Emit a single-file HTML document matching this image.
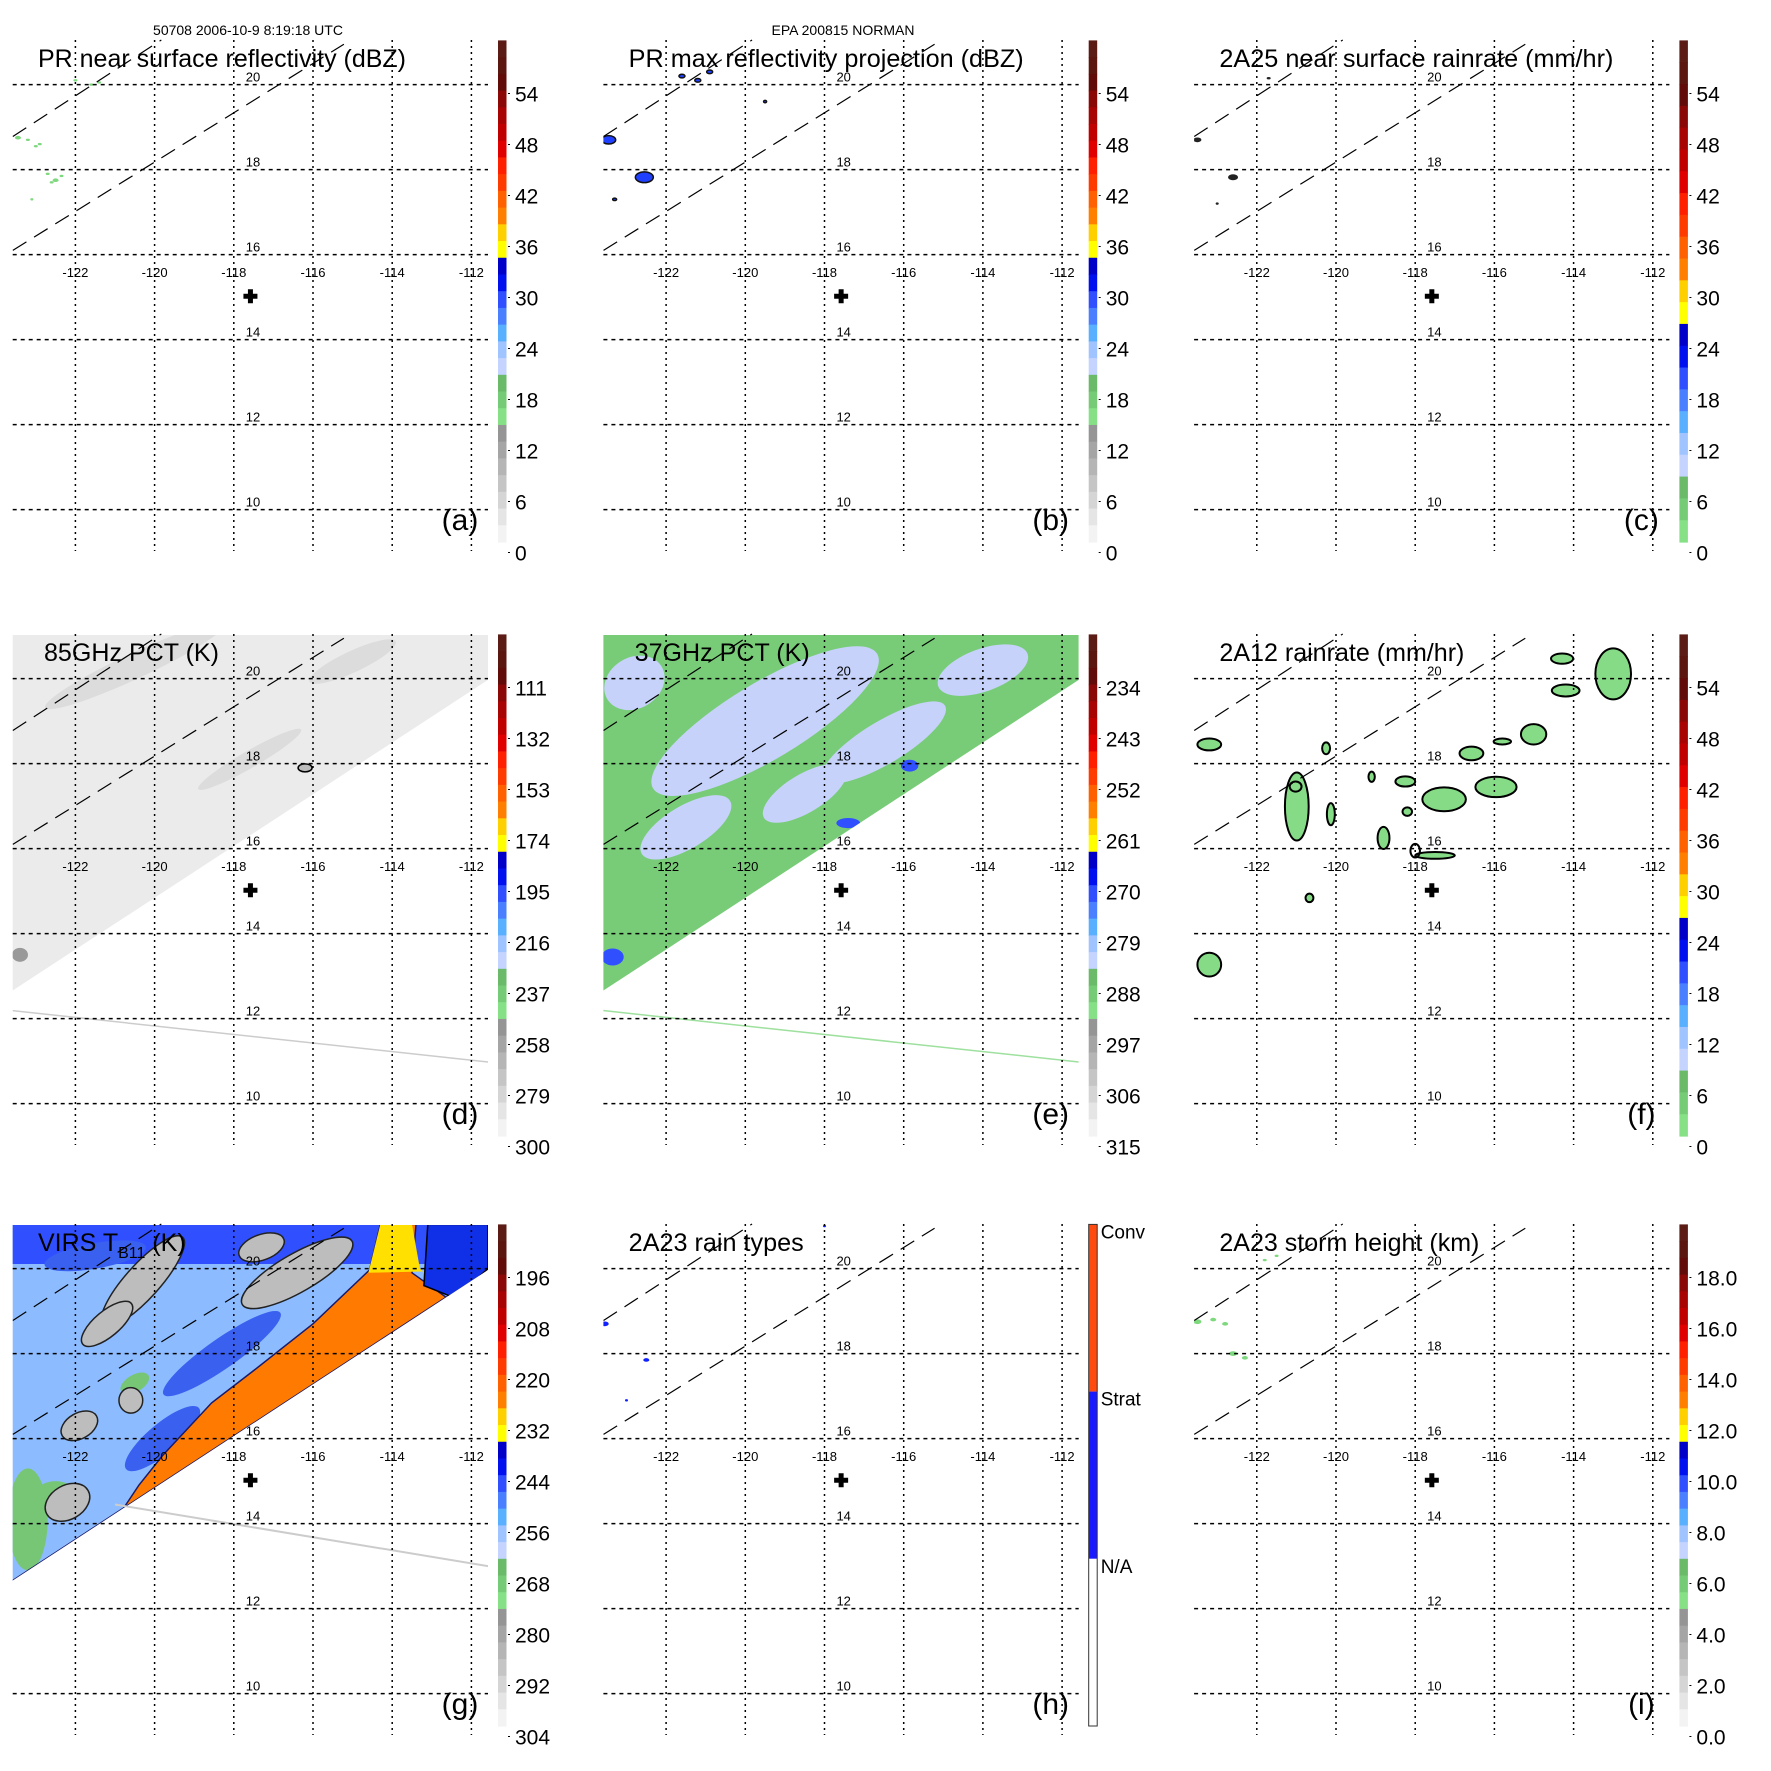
<!DOCTYPE html>
<html><head><meta charset="utf-8"><style>
html,body{margin:0;padding:0;background:#fff;}
svg{display:block;font-family:"Liberation Sans",sans-serif;}
</style></head><body>
<svg id="fig" width="1771" height="1771" viewBox="0 0 1771 1771" xmlns="http://www.w3.org/2000/svg"></svg>
<script>
// ---- data arrays ----
const lonTicks = [-122,-120,-118,-116,-114,-112];
const latTicks = [20,18,16,14,12,10];
const titles = ["PR near surface reflectivity (dBZ)","PR max reflectivity projection (dBZ)","2A25 near surface rainrate (mm/hr)","85GHz PCT (K)","37GHz PCT (K)","2A12 rainrate (mm/hr)","VIRS T","2A23 rain types","2A23 storm height (km)"];
const titleLens = [368,395,394,175,175,245,150,175,260];
const panelLetters = ["(a)","(b)","(c)","(d)","(e)","(f)","(g)","(h)","(i)"];
const cbLabelsA = ["54","48","42","36","30","24","18","12","6","0"];
const cbLabelsC = ["54","48","42","36","30","24","18","12","6","0"];
const cbLabelsD = ["111","132","153","174","195","216","237","258","279","300"];
const cbLabelsE = ["234","243","252","261","270","279","288","297","306","315"];
const cbLabelsG = ["196","208","220","232","244","256","268","280","292","304"];
const cbLabelsI = ["18.0","16.0","14.0","12.0","10.0","8.0","6.0","4.0","2.0","0.0"];
const rainTypes = ["Conv","Strat","N/A"];
const palette = ["#5a1c14","#5c1610","#620c0a","#8a0806","#a80404","#c00000","#e00000","#ff2000","#ff3c00","#ff6000","#ff8000","#ffd000","#ffff00","#0000c8","#0010ee","#3050ff","#4a80ff","#58b0ff","#a0c4ff","#c4d4ff","#6aba6a","#76cc76","#86e086","#959595","#a5a5a5","#b5b5b5","#c5c5c5","#d5d5d5","#e5e5e5","#f3f3f3"];
const sitePos = [-117.58, 15.02];
const swath = [[-123.6,21.04],[-111.58,21.04],[-111.58,19.97],[-123.6,12.65]];
const dashUpper = [[-123.58,18.78],[-119.83,21.05]];
const dashLower = [[-123.58,16.1],[-115.22,20.95]];
const orbitLineD = [[-123.6,12.19],[-111.58,10.98]];
const orbitLineG = [[-121.0,14.45],[-111.58,13.0]];
const specksA = [[-123.45,18.75,3],[-123.2,18.7,2],[-122.9,18.6,2],[-123.0,18.55,2],[-122.7,17.9,2],[-122.5,17.75,3],[-122.35,17.85,2],[-122.6,17.7,2],[-122.0,20.1,2],[-121.6,20.0,2],[-121.4,20.05,2],[-123.1,17.3,1.5]];
const specksB = [[-123.45,18.7,7],[-122.55,17.82,9],[-121.6,20.2,3],[-121.2,20.1,3],[-120.9,20.3,3],[-123.3,17.3,2],[-119.5,19.6,1.5]];
const specksC = [[-123.5,18.7,4],[-122.6,17.82,5],[-121.7,20.15,2],[-123.0,17.2,1.5]];
const specksH = [[-123.55,18.7,4],[-122.5,17.85,3],[-118.0,21.0,1.5],[-116.4,21.1,1.5],[-123.0,16.9,1.5]];
const specksI = [[-123.5,18.75,4],[-123.1,18.8,3],[-122.8,18.7,3],[-122.6,18.0,4],[-122.3,17.9,3],[-121.8,20.2,2],[-121.5,20.3,2]];
const blobsF = [[-113.0,20.11,0.45,0.6],[-120.99,16.99,0.3,0.8],[-117.27,17.16,0.55,0.28],[-115.96,17.45,0.52,0.24],[-116.58,18.24,0.3,0.16],[-115.01,18.69,0.32,0.24],[-123.2,18.45,0.3,0.14],[-123.2,13.27,0.3,0.28],[-114.29,20.47,0.28,0.12],[-118.8,16.25,0.15,0.26],[-118.25,17.58,0.25,0.12],[-120.13,16.81,0.1,0.26],[-120.25,18.36,0.1,0.14],[-114.2,19.72,0.35,0.14],[-119.1,17.69,0.08,0.12],[-118.2,16.87,0.12,0.1],[-115.8,18.52,0.22,0.07],[-120.67,14.84,0.1,0.1],[-117.5,15.84,0.5,0.08]];
const ringsF = [[-121.02,17.46,0.15,0.12],[-118.0,15.95,0.12,0.16]];
const lightE = [[-119.5,19.0,3.3,0.9,-31],[-116.5,18.5,1.8,0.5,-31],[-114.0,20.2,1.2,0.5,-20],[-121.5,16.5,1.3,0.5,-31],[-118.5,17.3,1.2,0.45,-31],[-122.8,19.9,0.8,0.6,-31]];
const blueE = [[-115.85,17.95,0.22,0.14],[-123.35,13.45,0.28,0.2],[-117.4,16.6,0.3,0.12]];
const streakD = [[-120.5,20.3,2.5,0.3,-25],[-115.0,20.4,1.2,0.25,-25],[-117.6,18.1,1.5,0.2,-30]];
const orangeG = [[-120.9,14.2],[-120.4,14.9],[-119.8,15.6],[-118.56,16.84],[-117.5,17.6],[-116.0,18.7],[-114.57,19.97],[-114.3,21.04],[-113.4,21.04],[-113.5,19.9],[-112.6,19.3],[-111.58,19.97]];
const yellowG = [[-114.6,19.9],[-114.3,21.04],[-113.5,21.04],[-113.3,20.0],[-112.3,19.15],[-111.58,19.97]];
const blueTopG = [[-113.1,21.04],[-111.58,21.04],[-111.58,20.0],[-112.4,19.3],[-113.2,19.6]];
const greyG = [[-120.3,19.7,1.5,0.4,-48],[-116.4,19.9,1.6,0.45,-30],[-121.9,16.3,0.5,0.3,-30],[-121.2,18.7,0.8,0.3,-40],[-122.2,14.5,0.6,0.4,-30],[-120.6,16.9,0.3,0.3,0],[-117.3,20.5,0.6,0.3,-20]];
const greenG = [[-123.2,14.1,0.5,1.2,0],[-122.5,14.7,0.5,0.3,0],[-120.5,17.3,0.4,0.2,-30]];
const darkBlueG = [[-118.3,18.0,1.8,0.35,-35],[-121.5,20.3,1.3,0.3,-10],[-119.8,16.0,1.2,0.35,-40]];

// ---- axes ----
const COL = 590.7;
const ROWS = [0, 594, 1184];
function xLon(lon,c){ return c*COL + 75.4 + (lon+122)*39.6; }
function yLat(lat,r){ return ROWS[r] + 84.6 + (20-lat)*42.5; }
const DX = 39.6, DY = 42.5;

const svg = document.getElementById('fig');
const NS = "http://www.w3.org/2000/svg";
function mk(tag, attrs, parent){
  const e = document.createElementNS(NS, tag);
  for (const k in attrs) e.setAttribute(k, attrs[k]);
  (parent||svg).appendChild(e);
  return e;
}
function pts(arr,c,r){ return arr.map(p=>xLon(p[0],c).toFixed(1)+","+yLat(p[1],r).toFixed(1)).join(" "); }

let t = mk('text',{x:248,y:35,'font-size':14,'text-anchor':'middle'});


t.textContent = "50708 2006-10-9 8:19:18 UTC";
t = mk('text',{x:843,y:35,'font-size':14,'text-anchor':'middle'});


t.textContent = "EPA 200815 NORMAN";

function drawPanel(i){
  const c = i%3, r = Math.floor(i/3);
  const R = ROWS[r];
  const g = mk('g',{});
  
  
  const clipId = 'clip'+i;
  const cp = mk('clipPath',{id:clipId},g);
  mk('rect',{x:c*COL+12.7,y:R+41,width:475.3,height:510},cp);
  const data = mk('g',{'clip-path':'url(#'+clipId+')'},g);
  
  

  if (i===3){
    const s = mk('polygon',{points:pts(swath,c,r),fill:'#ebebeb'},data);
    
    
    streakD.forEach(b=>{
      const e = mk('ellipse',{cx:xLon(b[0],c),cy:yLat(b[1],r),rx:b[2]*DX,ry:b[3]*DY,fill:'#dcdcdc',transform:`rotate(${b[4]} ${xLon(b[0],c)} ${yLat(b[1],r)})`},data);
      
      
    });
    const sp = mk('ellipse',{cx:xLon(-123.4,c),cy:yLat(13.5,r),rx:8,ry:7,fill:'#999'},data);
    
    
    const bl = mk('ellipse',{cx:xLon(-116.2,c),cy:yLat(17.9,r),rx:7,ry:4,fill:'#bbb',stroke:'#000','stroke-width':1.5},data);
    
    
    const ln = mk('line',{x1:xLon(orbitLineD[0][0],c),y1:yLat(orbitLineD[0][1],r),x2:xLon(orbitLineD[1][0],c),y2:yLat(orbitLineD[1][1],r),stroke:'#ccc','stroke-width':1.5},data);
    
    
  }
  if (i===4){
    const s = mk('polygon',{points:pts(swath,c,r),fill:'#78cc78'},data);
    
    
    const cp2 = mk('clipPath',{id:'sw'+i},g);
    mk('polygon',{points:pts(swath,c,r)},cp2);
    const inner = mk('g',{'clip-path':'url(#sw'+i+')'},data);
    lightE.forEach(b=>{
      const e = mk('ellipse',{cx:xLon(b[0],c),cy:yLat(b[1],r),rx:b[2]*DX,ry:b[3]*DY,fill:'#c6d2fa',transform:`rotate(${b[4]} ${xLon(b[0],c)} ${yLat(b[1],r)})`},inner);
      
      
    });
    blueE.forEach(b=>{
      const e = mk('ellipse',{cx:xLon(b[0],c),cy:yLat(b[1],r),rx:b[2]*DX,ry:b[3]*DY,fill:'#3050ff'},inner);
      
      
    });
    const ln = mk('line',{x1:xLon(orbitLineD[0][0],c),y1:yLat(orbitLineD[0][1],r),x2:xLon(orbitLineD[1][0],c),y2:yLat(orbitLineD[1][1],r),stroke:'#9ee09e','stroke-width':1.5},data);
    
    
  }
  if (i===6){
    const s = mk('polygon',{points:pts(swath,c,r),fill:'#8cbcff'},data);
    
    
    const cp2 = mk('clipPath',{id:'sw'+i},g);
    mk('polygon',{points:pts(swath,c,r)},cp2);
    const inner = mk('g',{'clip-path':'url(#sw'+i+')'},data);
    const tb = mk('rect',{x:c*COL+12,y:R+40,width:480,height:40,fill:'#3050ff'},inner);
    
    
    darkBlueG.forEach(b=>{
      const e = mk('ellipse',{cx:xLon(b[0],c),cy:yLat(b[1],r),rx:b[2]*DX,ry:b[3]*DY,fill:'#3a60f0',transform:`rotate(${b[4]} ${xLon(b[0],c)} ${yLat(b[1],r)})`},inner);
      
      
    });
    greenG.forEach(b=>{
      const e = mk('ellipse',{cx:xLon(b[0],c),cy:yLat(b[1],r),rx:b[2]*DX,ry:b[3]*DY,fill:'#76c676',transform:`rotate(${b[4]} ${xLon(b[0],c)} ${yLat(b[1],r)})`},inner);
      
      
    });
    greyG.forEach(b=>{
      const e = mk('ellipse',{cx:xLon(b[0],c),cy:yLat(b[1],r),rx:b[2]*DX,ry:b[3]*DY,fill:'#bdbdbd',stroke:'#222','stroke-width':1.5,transform:`rotate(${b[4]} ${xLon(b[0],c)} ${yLat(b[1],r)})`},inner);
      
      
    });
    const o = mk('polygon',{points:pts(orangeG.concat([[-123.6,12.65]]),c,r),fill:'#ff7a00',stroke:'#1a1a6a','stroke-width':1.5},inner);
    
    
    const y = mk('polygon',{points:pts(yellowG,c,r),fill:'#ffe000'},inner);
    
    
    const bt = mk('polygon',{points:pts(blueTopG,c,r),fill:'#1030e8',stroke:'#000','stroke-width':1.5},inner);
    
    
    const ln = mk('line',{x1:xLon(orbitLineG[0][0],c),y1:yLat(orbitLineG[0][1],r),x2:xLon(orbitLineG[1][0],c),y2:yLat(orbitLineG[1][1],r),stroke:'#ccc','stroke-width':2},data);
    
    
  }
  if (i===5){
    blobsF.forEach(b=>{
      const e = mk('ellipse',{cx:xLon(b[0],c),cy:yLat(b[1],r),rx:b[2]*DX,ry:b[3]*DY,fill:'#86dc86',stroke:'#000','stroke-width':2},data);
      
      
    });
    ringsF.forEach(b=>{
      const e = mk('ellipse',{cx:xLon(b[0],c),cy:yLat(b[1],r),rx:b[2]*DX,ry:b[3]*DY,fill:'none',stroke:'#000','stroke-width':2},data);
      
      
    });
  }
  const speckSets = {0:[specksA,'#7ed87e',null],1:[specksB,'#2040ff','#111'],2:[specksC,'#222',null],7:[specksH,'#1020ff',null],8:[specksI,'#7ed87e',null]};
  if (speckSets[i]){
    const [arr,col,stroke] = speckSets[i];
    arr.forEach(p=>{
      const e = mk('ellipse',{cx:xLon(p[0],c),cy:yLat(p[1],r),rx:p[2],ry:Math.max(1.2,p[2]*0.6),fill:col},data);
      if (stroke){ e.setAttribute('stroke',stroke); e.setAttribute('stroke-width',1.5); }
      
      
    });
  }

  lonTicks.forEach(lon=>{
    const x = xLon(lon,c);
    const l = mk('line',{x1:x,y1:R+40,x2:x,y2:R+551,stroke:'#000','stroke-width':1.5,'stroke-dasharray':'2,4'},g);
    
    
    const tx = mk('text',{x:x,y:R+277,'font-size':13,'text-anchor':'middle'},g);
    
    
    tx.textContent = String(lon);
  });
  latTicks.forEach(lat=>{
    const y = yLat(lat,r);
    const l = mk('line',{x1:c*COL+12.7,y1:y,x2:c*COL+488,y2:y,stroke:'#000','stroke-width':1.5,'stroke-dasharray':'4,4'},g);
    
    
    const tx = mk('text',{x:c*COL+253,y:y-3,'font-size':13,'text-anchor':'middle'},g);
    
    
    tx.textContent = String(lat);
  });
  [dashUpper,dashLower].forEach(d=>{
    const l = mk('line',{x1:xLon(d[0][0],c),y1:yLat(d[0][1],r),x2:xLon(d[1][0],c),y2:yLat(d[1][1],r),stroke:'#000','stroke-width':1.2,'stroke-dasharray':'16,9'},g);
    
    
  });
  const sx = xLon(sitePos[0],c), sy = yLat(sitePos[1],r);
  const m = mk('path',{d:`M${sx-7} ${sy-2.5}h14v5h-14z M${sx-2.5} ${sy-7}h5v14h-5z`,fill:'#000'},g);
  
  

  const tt = mk('text',{x:c*COL+(i===3||i===4?44:38),y:R+67,'font-size':25,textLength:titleLens[i],lengthAdjust:'spacingAndGlyphs'},g);
  
  
  if (i===6){
    tt.removeAttribute('textLength');
    tt.textContent = "VIRS T";
    const sub = mk('tspan',{'font-size':16,dy:7},tt); sub.textContent = "B11";
    const rest = mk('tspan',{dy:-7},tt); rest.textContent = " (K)";
  } else tt.textContent = titles[i];
  const pl = mk('text',{x:c*COL+460,y:R+530,'font-size':30,'text-anchor':'middle'},g);
  
  
  pl.textContent = panelLetters[i];

  const cb = mk('g',{},g);
  
  
  const bx = c*COL+498, by = R+40.4, bh = 501.6;
  if (i===7){
    const cols = ['#ff4a10','#1a1aff','#ffffff'];
    for (let k=0;k<3;k++){
      const rr = mk('rect',{x:bx,y:by+k*bh/3,width:8.5,height:bh/3,fill:cols[k]},cb);
      
      
      const lb = mk('text',{x:bx+12,y:by+k*bh/3+14,'font-size':19},cb);
      
      
      lb.textContent = rainTypes[k];
    }
    mk('rect',{x:bx,y:by,width:8.5,height:bh,fill:'none',stroke:'#333','stroke-width':1},cb);
  } else {
    const pal = (i===2||i===5) ? palette.slice(0,23) : palette;
    const sh = bh/pal.length;
    pal.forEach((col,k)=>{
      const rr = mk('rect',{x:bx,y:by+k*sh,width:8.5,height:sh+0.6,fill:col},cb);
      
      
    });
    const labs = {0:cbLabelsA,1:cbLabelsA,2:cbLabelsC,3:cbLabelsD,4:cbLabelsE,5:cbLabelsC,6:cbLabelsG,8:cbLabelsI}[i];
    labs.forEach((s,k)=>{
      const ly = R+93.5+k*51;
      mk('line',{x1:bx+10,y1:ly,x2:bx+12,y2:ly,stroke:'#000','stroke-width':1},cb);
      const lb = mk('text',{x:c*COL+515,y:ly+8,'font-size':21},cb);
      
      
      lb.textContent = s;
    });
  }
}
for (let i=0;i<9;i++) drawPanel(i);
</script>
</body></html>
